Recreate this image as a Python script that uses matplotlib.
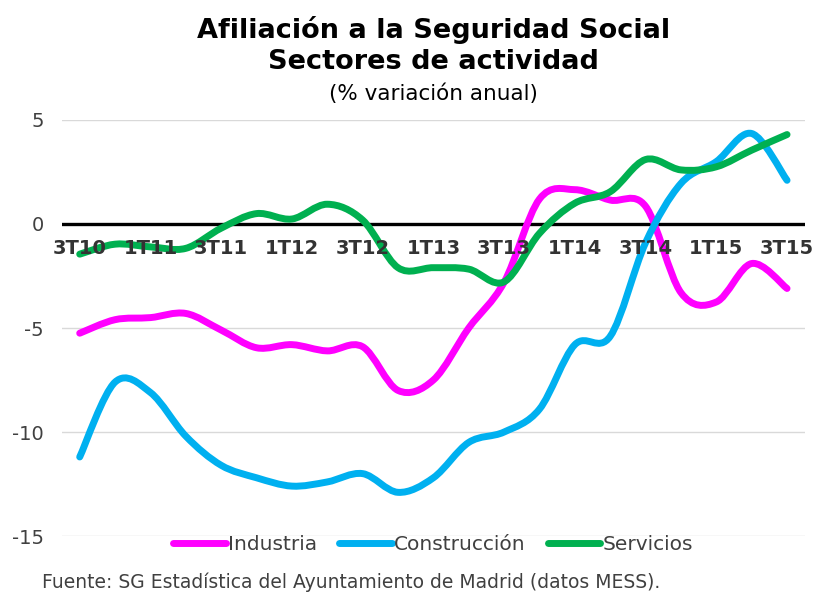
import matplotlib
matplotlib.use("Agg")
import numpy as np
import matplotlib.pyplot as plt
from matplotlib.path import Path
from matplotlib.patches import PathPatch
from matplotlib.lines import Line2D

plt.rcParams["axes.unicode_minus"] = False

# Quarters 3T10 .. 3T15
quarters = ["3T10", "4T10", "1T11", "2T11", "3T11", "4T11", "1T12", "2T12",
            "3T12", "4T12", "1T13", "2T13", "3T13", "4T13", "1T14", "2T14",
            "3T14", "4T14", "1T15", "2T15", "3T15"]

industria = [-5.25, -4.6, -4.5, -4.3, -5.1, -5.95, -5.8, -6.1, -5.9, -8.0,
             -7.5, -5.0, -2.8, 1.2, 1.65, 1.15, 0.85, -3.3, -3.75, -1.9, -3.1]
construccion = [-11.2, -7.6, -8.1, -10.2, -11.6, -12.2, -12.6, -12.4, -12.0, -12.9,
                -12.2, -10.5, -10.0, -8.9, -5.8, -5.4, -0.9, 1.95, 3.0, 4.35, 2.1]
servicios = [-1.45, -0.97, -1.1, -1.17, -0.2, 0.5, 0.24, 0.95, 0.19, -2.1,
             -2.1, -2.17, -2.78, -0.45, 1.0, 1.55, 3.1, 2.6, 2.75, 3.55, 4.3]

series = [("Industria", industria, "#FF00FF"),
          ("Construcción", construccion, "#00B0F0"),
          ("Servicios", servicios, "#00B050")]


def smooth_path(xs, ys):
    """Bezier path through the points, Excel-style smoothed line."""
    pts = np.column_stack([xs, ys]).astype(float)
    n = len(pts)
    verts = [pts[0]]
    codes = [Path.MOVETO]
    for i in range(n - 1):
        p0 = pts[max(i - 1, 0)]
        p1 = pts[i]
        p2 = pts[i + 1]
        p3 = pts[min(i + 2, n - 1)]
        c1 = p1 + (p2 - p0) / 6.0
        c2 = p2 - (p3 - p1) / 6.0
        verts += [c1, c2, p2]
        codes += [Path.CURVE4] * 3
    return Path(verts, codes)


fig = plt.figure(figsize=(8.15, 5.94), dpi=100)
ax = fig.add_axes([0.0761, 0.0976, 0.9113, 0.7004])

x = np.arange(len(quarters))
handles = []
for name, vals, color in series:
    patch = PathPatch(smooth_path(x, vals), facecolor="none", edgecolor=color,
                      lw=5, capstyle="round", joinstyle="round", zorder=2)
    ax.add_patch(patch)
    handles.append(Line2D([], [], color=color, lw=5, solid_capstyle="round", label=name))

ax.set_xlim(-0.5, len(quarters) - 0.5)
ax.set_ylim(-15, 5)
ax.set_yticks([-15, -10, -5, 0, 5])
ax.yaxis.grid(True, color="#D9D9D9", lw=1)
ax.axhline(0, color="black", lw=2.4, zorder=1.9)

for s in ax.spines.values():
    s.set_visible(False)
ax.spines["bottom"].set_position(("data", 0))
ax.set_xticks(x[::2])
ax.set_xticklabels(quarters[::2], fontsize=14, fontweight="bold", color="#333333")
ax.xaxis.set_zorder(5)
ax.tick_params(axis="x", length=0, pad=11)
ax.tick_params(axis="y", length=0, pad=13, labelsize=14, labelcolor="#404040")

leg = ax.legend(handles=handles, loc="center", bbox_to_anchor=(0.5, -0.02), ncol=3,
                frameon=False, fontsize=14.5, handlelength=2.6, handletextpad=0.12,
                columnspacing=1.1, labelcolor="#404040")

fig.text(0.532, 0.950, "Afiliación a la Seguridad Social", ha="center", va="center",
         fontsize=19.5, fontweight="bold")
fig.text(0.532, 0.895, "Sectores de actividad", ha="center", va="center",
         fontsize=19.5, fontweight="bold")
fig.text(0.532, 0.843, "(% variación anual)", ha="center", va="center", fontsize=15.5)
fig.text(0.052, 0.02, "Fuente: SG Estadística del Ayuntamiento de Madrid (datos MESS).",
         ha="left", va="center", fontsize=13.5, color="#404040")

fig.savefig("out.png", dpi=100)
